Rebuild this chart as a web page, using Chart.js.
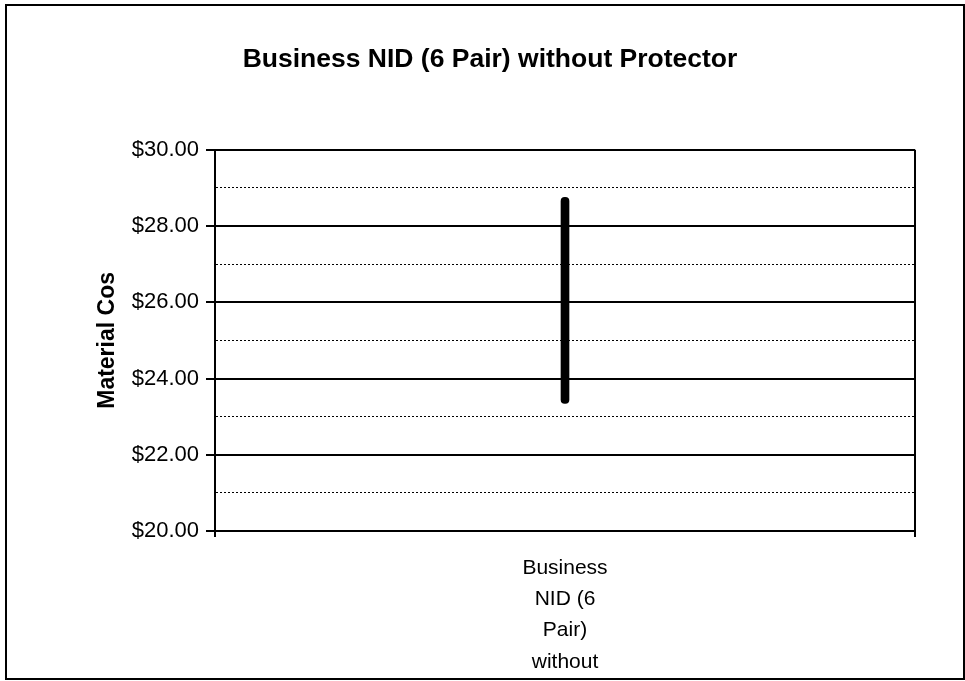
<!DOCTYPE html>
<html>
<head>
<meta charset="utf-8">
<title>Business NID (6 Pair) without Protector</title>
<script src="https://cdn.jsdelivr.net/npm/chart.js@4.4.1/dist/chart.umd.min.js"></script>
<style>
  html, body { margin: 0; padding: 0; background: #fff; }
  #wrap { position: relative; width: 965px; height: 681px; overflow: hidden; }
  #frame {
    position: absolute; left: 5px; top: 4px;
    width: 956px; height: 672px;
    border: 2px solid #000; box-sizing: content-box;
    pointer-events: none;
  }
  canvas { position: absolute; left: 0; top: 0; }
</style>
</head>
<body>
<div id="wrap">
  <canvas id="chart" width="965" height="681"></canvas>
  <div id="frame"></div>
</div>
<script>
// category label (the last word "Protector" is cut off in the source)
const categories = [['Business', 'NID (6', 'Pair)', 'without']];
// low / high material cost for the item
const costLow = [23.35];
const costHigh = [28.75];
const yMin = 20;
const yMax = 30;

const FONT = "'Liberation Sans', Arial, sans-serif";
const isMajor = (v) => Math.round(v) % 2 === 0;

new Chart(document.getElementById('chart'), {
  type: 'bar',
  data: {
    labels: categories,
    datasets: [{
      data: costLow.map((lo, i) => [lo, costHigh[i]]),
      backgroundColor: '#000',
      barThickness: 8,
      borderRadius: 4,
      borderSkipped: false
    }]
  },
  options: {
    responsive: false,
    animation: false,
    layout: { padding: { left: 65, right: 50, top: 0, bottom: 5 } },
    plugins: {
      legend: { display: false },
      tooltip: { enabled: false },
      title: {
        display: true,
        text: 'Business NID (6 Pair) without Protector',
        color: '#000',
        font: { family: FONT, size: 26.5, weight: 'bold' },
        padding: { top: 44, bottom: 74 }
      }
    },
    scales: {
      x: {
        offset: true,
        afterFit: (scale) => { scale.height = 145; },
        grid: {
          offset: true,
          color: '#000',
          lineWidth: 2,
          tickLength: 6
        },
        border: { color: '#000', width: 2 },
        ticks: {
          color: '#000',
          font: { family: FONT, size: 21, lineHeight: 1.48 },
          padding: 16,
          maxRotation: 0,
          autoSkip: false
        }
      },
      y: {
        min: yMin,
        max: yMax,
        afterFit: (scale) => { scale.width = 150; },
        grid: {
          color: '#000',
          lineWidth: (ctx) => (isMajor(ctx.tick.value) ? 2 : 1),
          tickColor: (ctx) => (isMajor(ctx.tick.value) ? '#000' : 'rgba(0,0,0,0)'),
          tickWidth: 2,
          tickLength: 9
        },
        border: {
          color: '#000',
          width: 2,
          dash: (ctx) => (isMajor(ctx.tick.value) ? [] : [2, 2])
        },
        ticks: {
          stepSize: 1,
          color: '#000',
          padding: 7,
          font: { family: FONT, size: 22 },
          callback: (v) => (isMajor(v) ? '$' + v.toFixed(2) : '')
        },
        title: {
          display: true,
          text: 'Material Cos',
          color: '#000',
          font: { family: FONT, size: 23, weight: 'bold' },
          padding: { top: 29, bottom: 0 }
        }
      }
    }
  }
});
</script>
</body>
</html>
